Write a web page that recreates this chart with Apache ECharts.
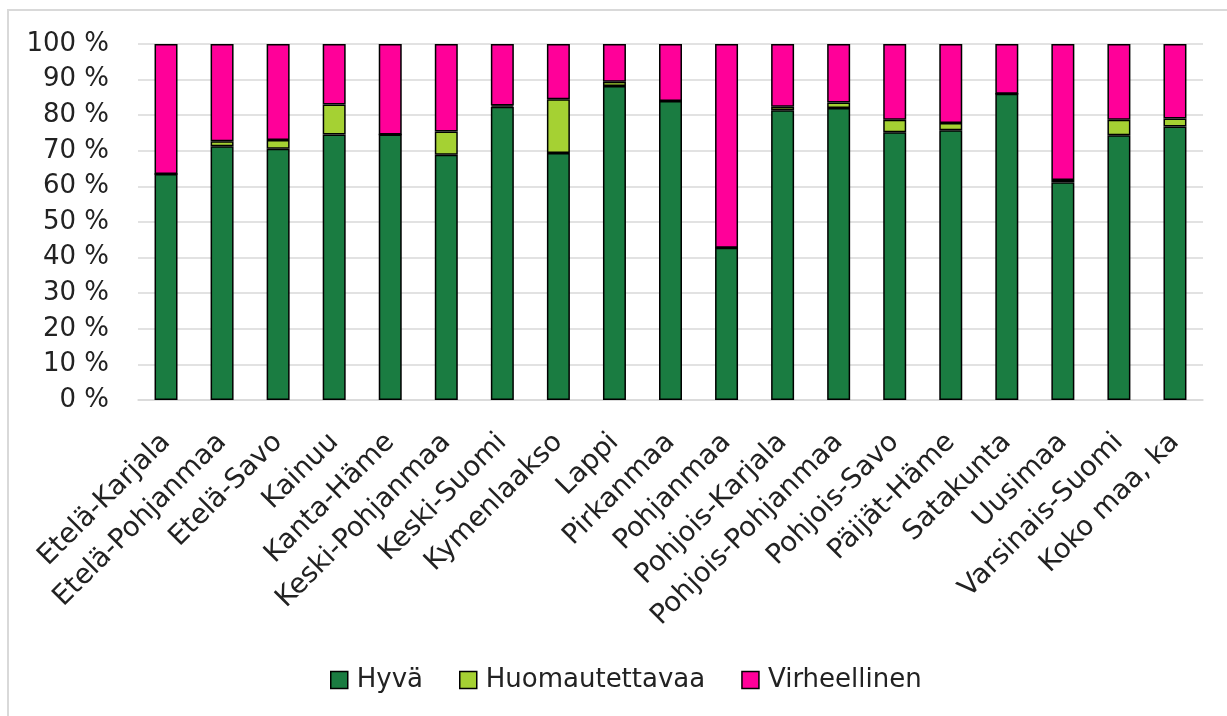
<!DOCTYPE html>
<html>
<head>
<meta charset="utf-8">
<script src="https://cdn.jsdelivr.net/npm/echarts@6/dist/echarts.min.js"></script>
<style>
html,body{margin:0;padding:0;background:#fff;}
#frame{position:absolute;left:7px;top:9px;width:1230px;height:720px;border-left:2px solid #d9d9d9;border-top:2px solid #d9d9d9;}
#c{position:absolute;left:0;top:0;width:1227px;height:716px;}
</style>
</head>
<body>
<div id="frame"></div>
<div id="c"></div>
<script>
const categories = ["Etelä-Karjala","Etelä-Pohjanmaa","Etelä-Savo","Kainuu","Kanta-Häme","Keski-Pohjanmaa","Keski-Suomi","Kymenlaakso","Lappi","Pirkanmaa","Pohjanmaa","Pohjois-Karjala","Pohjois-Pohjanmaa","Pohjois-Savo","Päijät-Häme","Satakunta","Uusimaa","Varsinais-Suomi","Koko maa, ka"];
const hyva = [63.5,71.3,70.6,74.6,74.6,68.9,82.4,69.4,88.2,84.0,42.8,81.4,82.0,75.2,75.8,86.0,61.2,74.4,76.8];
const huomautettavaa = [0.0,1.4,2.4,8.4,0.0,6.5,0.3,15.1,1.2,0.0,0.0,1.0,1.6,3.5,2.0,0.0,0.6,4.3,2.3];
const virheellinen = [36.5,27.3,27.0,17.0,25.4,24.6,17.3,15.5,10.6,16.0,57.2,17.6,16.4,21.3,22.2,14.0,38.2,21.3,20.9];
const seriesNames = ["Hyvä","Huomautettavaa","Virheellinen"];
const colors = ["#1a7c41","#a5d133","#ff0099"];

const chart = echarts.init(document.getElementById('c'));
const font = "'DejaVu Sans', sans-serif";
const mk = (name, data, color) => ({
  name, type:'bar', stack:'t', data, barWidth:'41%',
  itemStyle:{color, borderColor:'#000', borderWidth:1.5},
  emphasis:{disabled:true}
});
chart.setOption({
  animation:false,
  grid:{left:138, right:24, top:44, bottom:316, containLabel:false},
  legend:{
    top:662, left:325, itemWidth:17, itemHeight:17, itemGap:36,
    icon:'rect',
    textStyle:{fontFamily:font, fontSize:26, color:'#222', padding:[0,0,0,4]},
    itemStyle:{borderColor:'#000', borderWidth:1.5},
    data:seriesNames
  },
  xAxis:{
    type:'category', data:categories,
    axisLine:{show:true, lineStyle:{color:'#d9d9d9', width:1.5}},
    axisTick:{show:false},
    axisLabel:{rotate:45, interval:0, margin:38, fontFamily:font, fontSize:27.5, color:'#222'}
  },
  yAxis:{
    type:'value', min:0, max:100, interval:10,
    axisLine:{show:false}, axisTick:{show:false},
    splitLine:{lineStyle:{color:'#d9d9d9', width:1.5}},
    axisLabel:{formatter:v=>v+' %', fontFamily:font, fontSize:26, color:'#222', margin:29}
  },
  series:[
    mk(seriesNames[0], hyva, colors[0]),
    mk(seriesNames[1], huomautettavaa, colors[1]),
    mk(seriesNames[2], virheellinen, colors[2])
  ]
});
</script>
</body>
</html>
